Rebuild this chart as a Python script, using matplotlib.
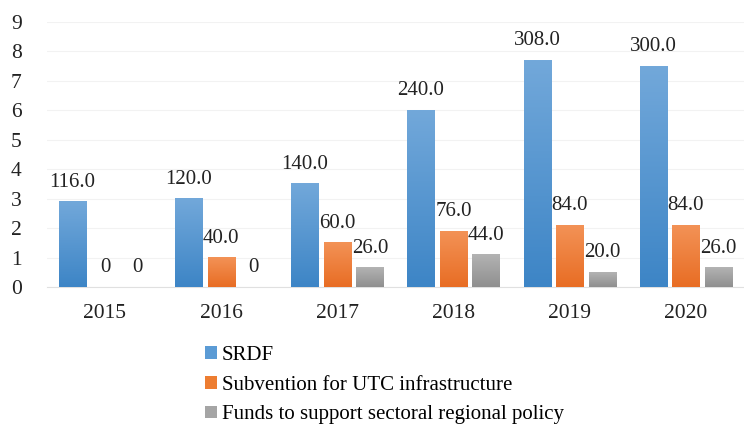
import numpy as np
import matplotlib.pyplot as plt
from matplotlib.colors import LinearSegmentedColormap
from matplotlib.patches import Patch

plt.rcParams['font.family'] = ['Liberation Serif', 'DejaVu Serif']

years = ['2015', '2016', '2017', '2018', '2019', '2020']
srdf = [116.0, 120.0, 140.0, 240.0, 308.0, 300.0]
subvention = [0, 40.0, 60.0, 76.0, 84.0, 84.0]
funds = [0, 0, 26.0, 44.0, 20.0, 26.0]
series_names = ['SRDF', 'Subvention for UTC infrastructure',
                'Funds to support sectoral regional policy']
scale = 40.0  # axis units shown are value / 40

colors = [('#3d85c6', '#72a8da'), ('#e86d24', '#f39256'), ('#8f8f8f', '#b3b3b3')]
legend_colors = ['#5b9bd5', '#ed7d31', '#a5a5a5']

fig = plt.figure(figsize=(7.44, 4.29), dpi=100)
ax = fig.add_axes([0.063, 0.331, 0.937, 0.618])

x = np.arange(len(years))
width = 0.235
offsets = [-0.28, 0.0, 0.28]
grad = np.linspace(0, 1, 100).reshape(-1, 1)

for vals, off, (c0, c1) in zip([srdf, subvention, funds], offsets, colors):
    cmap = LinearSegmentedColormap.from_list('g', [c0, c1])
    for xi, v in zip(x, vals):
        h = v / scale
        if h > 0:
            ax.imshow(grad, cmap=cmap, origin='lower', aspect='auto',
                      extent=[xi + off - width / 2, xi + off + width / 2, 0, h],
                      zorder=3)
        lbl = '0' if v == 0 else f'{v:.1f}'
        ax.annotate(lbl, (xi + off, h), xytext=(0, 14), textcoords='offset points',
                    ha='center', va='center', fontsize=15, color='#222222', zorder=4)

ax.set_xlim(-0.5, len(years) - 0.5)
ax.set_ylim(0, 9)
ax.set_yticks(range(10))
ax.set_xticks(x)
ax.set_xticklabels(years)
ax.tick_params(axis='both', length=0, labelsize=15.5, colors='#222222')
ax.tick_params(axis='y', pad=18)
ax.tick_params(axis='x', pad=12)
ax.grid(axis='y', color='#f2f2f2', linewidth=0.8, zorder=0)
ax.set_axisbelow(True)
for s in ['top', 'right', 'left']:
    ax.spines[s].set_visible(False)
ax.spines['bottom'].set_color('#e0e0e0')

handles = [Patch(facecolor=c) for c in legend_colors]
fig.legend(handles, series_names, loc='upper left', bbox_to_anchor=(0.276, 0.194),
           frameon=False, fontsize=15, handlelength=0.55, handleheight=0.55,
           handletextpad=0.25, labelspacing=0.52, borderaxespad=0, borderpad=0)

fig.savefig('out.png', dpi=100)
plt.close()
